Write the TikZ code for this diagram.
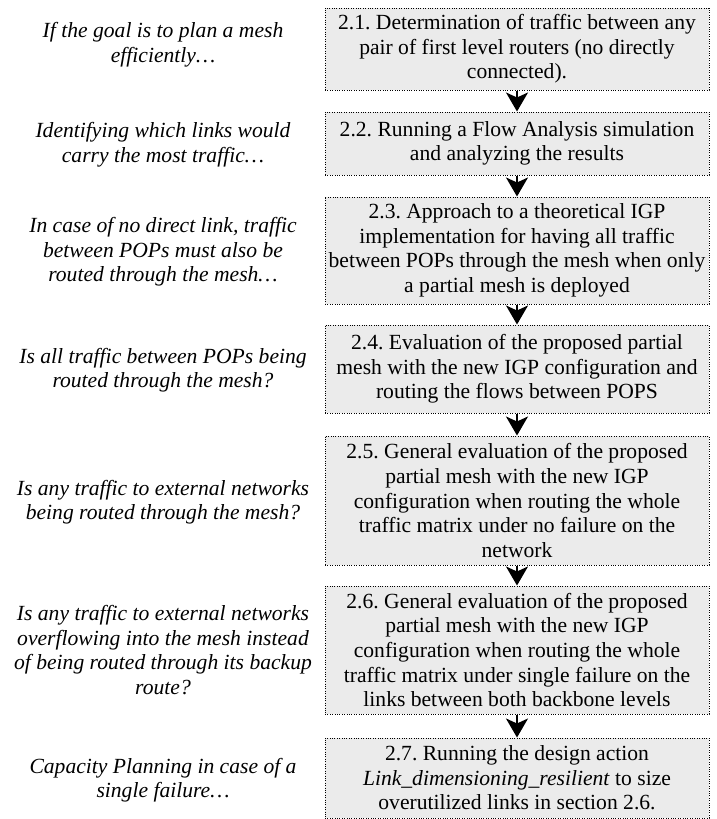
\documentclass[tikz,border=0pt]{standalone}
\usepackage{fontspec}
\setmainfont{Liberation Serif}
\usetikzlibrary{arrows.meta}
\frenchspacing
\definecolor{boxfill}{HTML}{EBEBEB}
\tikzset{
  stepbox/.style={draw=black, fill=boxfill, line width=1pt, dash pattern=on 1pt off 1.4pt,
    minimum width=384pt, inner sep=0pt, align=center,
    font=\fontsize{21.6}{24.6}\selectfont},
  question/.style={align=center, inner sep=0pt,
    font=\fontsize{21.6}{24.6}\selectfont\itshape},
  flow/.style={line width=2pt, -{Stealth[length=19pt,width=22pt,inset=5pt]}}
}
\begin{document}
\begin{tikzpicture}[x=1pt,y=-1pt]
\useasboundingbox (0,0) rectangle (717,819);
\node[stepbox, minimum height=82pt] (b1) at (517,49) {2.1. Determination of traffic between any\\pair of first level routers (no directly\\connected).};
\node[stepbox, minimum height=63pt] (b2) at (517,143.5) {2.2. Running a Flow Analysis simulation\\and analyzing the results};
\node[stepbox, minimum height=107pt] (b3) at (517,250.5) {2.3. Approach to a theoretical IGP\\implementation for having all traffic\\between POPs through the mesh when only\\a partial mesh is deployed};
\node[stepbox, minimum height=88pt] (b4) at (517,369) {2.4. Evaluation of the proposed partial\\mesh with the new IGP configuration and\\routing the flows between POPS};
\node[stepbox, minimum height=129pt] (b5) at (517,500.5) {2.5. General evaluation of the proposed\\partial mesh with the new IGP\\configuration when routing the whole\\traffic matrix under no failure on the\\network};
\node[stepbox, minimum height=128pt] (b6) at (517,650) {2.6. General evaluation of the proposed\\partial mesh with the new IGP\\configuration when routing the whole\\traffic matrix under single failure on the\\links between both backbone levels};
\node[stepbox, minimum height=80pt] (b7) at (517,778) {2.7. Running the design action\\\textit{Link\_dimensioning\_resilient} to size\\overutilized links in section 2.6.};

\node[question] (q1) at (163,45) {If the goal is to plan a mesh\\efficiently…};
\node[question] (q2) at (163,145) {Identifying which links would\\carry the most traffic…};
\node[question] (q3) at (163,252) {In case of no direct link, traffic\\between POPs must also be\\routed through the mesh…};
\node[question] (q4) at (163,370) {Is all traffic between POPs being\\routed through the mesh?};
\node[question] (q5) at (163,502) {Is any traffic to external networks\\being routed through the mesh?};
\node[question] (q6) at (163,650) {Is any traffic to external networks\\overflowing into the mesh instead\\of being routed through its backup\\route?};
\node[question] (q7) at (163,780) {Capacity Planning in case of a\\single failure…};

\draw[flow] (b1) -- (b2);
\draw[flow] (b2) -- (b3);
\draw[flow] (b3) -- (b4);
\draw[flow] (b4) -- (b5);
\draw[flow] (b5) -- (b6);
\draw[flow] (b6) -- (b7);
\end{tikzpicture}
\end{document}
